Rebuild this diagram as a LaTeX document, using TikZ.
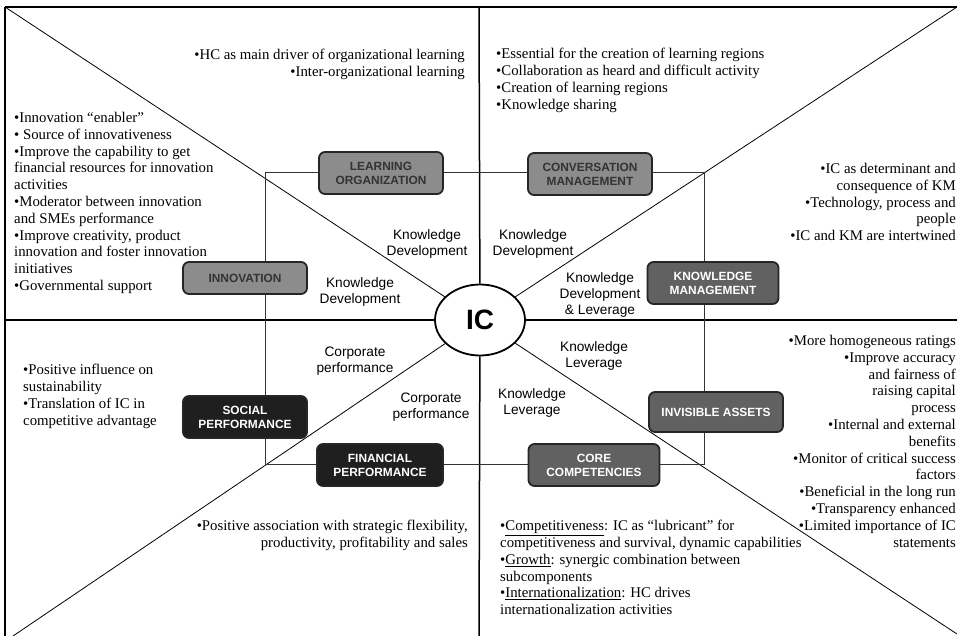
\documentclass[tikz,border=0pt]{standalone}
\usepackage{fontspec}
\setmainfont{Liberation Serif}
\setsansfont{Liberation Sans}
\usepackage{tikz}
\usetikzlibrary{shapes.geometric}

\begin{document}
\begin{tikzpicture}[x=1pt,y=-1pt,
  bullets/.style={inner sep=0pt,font=\fontsize{14.8}{16.8}\selectfont},
  flow/.style={inner sep=0pt,align=center,font=\sffamily\fontsize{13.7}{16}\selectfont},
  box/.style={draw=black!85,line width=1.8pt,rounded corners=6pt,align=center,
    minimum width=124pt,minimum height=42pt,inner sep=0pt,
    font=\sffamily\bfseries\fontsize{11.9}{14}\selectfont},
  lightbox/.style={box,fill=black!45,text=black!80},
  midbox/.style={box,fill=black!62,text=white},
  darkbox/.style={box,fill=black!88,text=white}]

  \useasboundingbox (0,0) rectangle (957,636);

  \coordinate (tl) at (5,7);
  \coordinate (tr) at (957,7);
  \coordinate (bl) at (13,636);
  \coordinate (br) at (957,634);
  \coordinate (top) at (479,7);
  \coordinate (bottom) at (479,636);
  \coordinate (left) at (5,320);
  \coordinate (right) at (957,320);

  \node[ellipse,draw,line width=1.8pt,fill=white,minimum width=90pt,minimum height=71pt,
    inner sep=0pt,font=\sffamily\bfseries\fontsize{28}{30}\selectfont] (ic) at (480,320) {IC};

  \draw[line width=1.5pt] (tl) -- (tr);
  \draw[line width=1.5pt] (tl) -- (5,636);
  \draw[line width=1.5pt] (top) -- (ic);
  \draw[line width=1.5pt] (ic) -- (bottom);
  \draw[line width=1.5pt] (left) -- (ic);
  \draw[line width=1.5pt] (ic) -- (right);
  \draw[line width=0.8pt] (tl) -- (ic);
  \draw[line width=0.8pt] (ic) -- (br);
  \draw[line width=0.8pt] (bl) -- (ic);
  \draw[line width=0.8pt] (ic) -- (tr);

  \draw[line width=0.8pt,color=black!80] (265,172) rectangle (704,464);

  \node[lightbox] (learn) at (381,173) {LEARNING\\ORGANIZATION};
  \node[lightbox] (conv) at (590,174) {CONVERSATION\\MANAGEMENT};
  \node[lightbox,minimum height=32pt] (innov) at (245,278) {INNOVATION};
  \node[midbox,minimum width=131pt] (km) at (713,283) {KNOWLEDGE\\MANAGEMENT};
  \node[midbox,minimum width=134pt,minimum height=40pt] (invis) at (716,412) {INVISIBLE ASSETS};
  \node[midbox,minimum width=131pt] (core) at (594,465) {CORE\\COMPETENCIES};
  \node[darkbox] (social) at (245,417) {SOCIAL\\PERFORMANCE};
  \node[darkbox,minimum width=126pt] (fin) at (380,465) {FINANCIAL\\PERFORMANCE};

  \node[flow] (kdlearn) at (427,244) {Knowledge\\Development};
  \node[flow] (kdinnov) at (360,292) {Knowledge\\Development};
  \node[flow] (kdconv) at (533,244) {Knowledge\\Development};
  \node[flow] (kdkm) at (600,295) {Knowledge\\Development\\\& Leverage};
  \node[flow] (cpsocial) at (355,361) {Corporate\\performance};
  \node[flow] (cpfin) at (431,407) {Corporate\\performance};
  \node[flow] (klinvis) at (594,356) {Knowledge\\Leverage};
  \node[flow] (klcore) at (532,403) {Knowledge\\Leverage};

  \node[bullets,anchor=north east,align=right] (learntext) at (465,49) {•HC as main driver of organizational learning\\
  •Inter-organizational learning};
  \node[bullets,anchor=north west,align=left] (convtext) at (496,48) {•Essential for the creation of learning regions\\
  •Collaboration as heard and difficult activity\\
  •Creation of learning regions\\
  •Knowledge sharing};
  \node[bullets,anchor=north west,align=left] (innovtext) at (14,112) {•Innovation “enabler”\\
  • Source of innovativeness\\
  •Improve the capability to get\\
  financial resources for innovation\\
  activities\\
  •Moderator between innovation\\
  and SMEs performance\\
  •Improve creativity, product\\
  innovation and foster innovation\\
  initiatives\\
  •Governmental support};
  \node[bullets,anchor=north east,align=right] (kmtext) at (956,163) {•IC as determinant and\\
  consequence of KM\\
  •Technology, process and\\
  people\\
  •IC and KM are intertwined};
  \node[bullets,anchor=north west,align=left] (socialtext) at (23,364) {•Positive influence on\\
  sustainability\\
  •Translation of IC in\\
  competitive advantage};
  \node[bullets,anchor=north east,align=right] (fintext) at (468,520) {•Positive association with strategic flexibility,\\
  productivity, profitability and sales};
  \node[bullets,anchor=north east,align=right] (invistext) at (956,335) {•More homogeneous ratings\\
  •Improve accuracy\\
  and fairness of\\
  raising capital\\
  process\\
  •Internal and external\\
  benefits\\
  •Monitor of critical success\\
  factors\\
  •Beneficial in the long run\\
  •Transparency enhanced\\
  •Limited importance of IC\\
  statements};
  \node[bullets,anchor=north west,align=left] (coretext) at (500,520) {•\underline{Competitiveness}: IC as “lubricant” for\\
  competitiveness and survival, dynamic capabilities\\
  •\underline{Growth}: synergic combination between\\
  subcomponents\\
  •\underline{Internationalization}: HC drives\\
  internationalization activities};
\end{tikzpicture}
\end{document}
